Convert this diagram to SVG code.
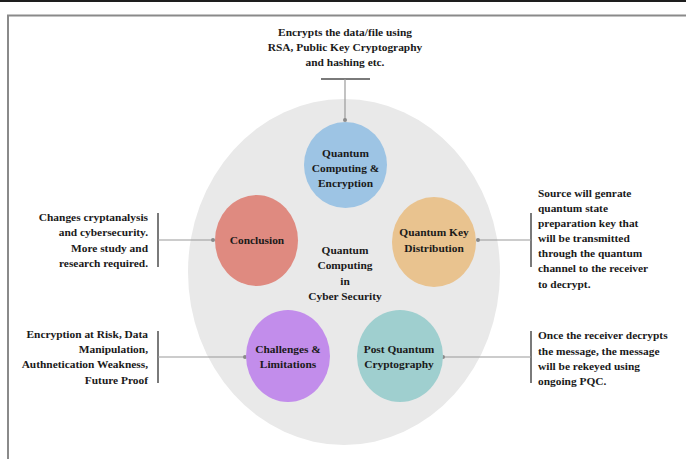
<svg xmlns="http://www.w3.org/2000/svg" width="686" height="459" viewBox="0 0 686 459">
<style>
  text { font-family: "Liberation Serif", "Times New Roman", serif; font-weight: bold; font-size: 11.4px; fill: #1a1a1a; }
  .mid { text-anchor: middle; }
  .end { text-anchor: end; }
  .conn { stroke: #9a9a9a; stroke-width: 1.2; fill: none; }
  .brk { stroke: #7a7a7a; stroke-width: 2; fill: none; }
  .dot { fill: #8a8a8a; }
</style>
<rect width="686" height="459" fill="#ffffff"/>
<rect x="0" y="0" width="686" height="2" fill="#1e1e1e"/>
<path d="M8 459 V15.5 H686" stroke="#8a8a8a" stroke-width="2" fill="none"/>

<g id="background">
  <ellipse cx="344" cy="272" rx="156" ry="173" fill="#e9e9e9"/>
  <text class="mid" x="345" y="254">Quantum</text>
  <text class="mid" x="345" y="269">Computing</text>
  <text class="mid" x="345" y="285">in</text>
  <text class="mid" x="345" y="300">Cyber Security</text>
</g>

<g id="connectors">
  <line class="brk" x1="321" y1="79" x2="370" y2="79"/>
  <line class="conn" x1="345" y1="79" x2="345" y2="120"/>
  <circle class="dot" cx="345" cy="120" r="2"/>

  <line class="brk" x1="158" y1="213" x2="158" y2="267"/>
  <line class="conn" x1="158" y1="240" x2="213" y2="240"/>
  <circle class="dot" cx="213" cy="240" r="2"/>

  <line class="brk" x1="531" y1="213" x2="531" y2="267"/>
  <line class="conn" x1="478" y1="240" x2="531" y2="240"/>
  <circle class="dot" cx="478" cy="240" r="2"/>

  <line class="brk" x1="158" y1="331" x2="158" y2="383"/>
  <line class="conn" x1="158" y1="357" x2="245" y2="357"/>
  <circle class="dot" cx="245" cy="357" r="2"/>

  <line class="brk" x1="531" y1="331" x2="531" y2="383"/>
  <line class="conn" x1="443" y1="357" x2="531" y2="357"/>
  <circle class="dot" cx="443" cy="357" r="2"/>
</g>

<g id="note-top">
  <text class="mid" x="345" y="36">Encrypts the data/file using</text>
  <text class="mid" x="345" y="51">RSA, Public Key Cryptography</text>
  <text class="mid" x="345" y="66">and hashing etc.</text>
</g>

<g id="node-encryption">
  <ellipse cx="345.5" cy="165" rx="41.5" ry="43" fill="#9dc4e4"/>
  <text class="mid" x="345.5" y="157">Quantum</text>
  <text class="mid" x="345.5" y="172">Computing &amp;</text>
  <text class="mid" x="345.5" y="187">Encryption</text>
</g>

<g id="node-conclusion">
  <ellipse cx="256.5" cy="240.5" rx="41.5" ry="45.5" fill="#df8a80"/>
  <text class="mid" x="257" y="244">Conclusion</text>
</g>
<g id="note-conclusion">
  <text class="end" x="148" y="221">Changes cryptanalysis</text>
  <text class="end" x="148" y="236">and cybersecurity.</text>
  <text class="end" x="148" y="252">More study and</text>
  <text class="end" x="148" y="267">research required.</text>
</g>

<g id="node-qkd">
  <ellipse cx="434" cy="242" rx="42" ry="45" fill="#e9c38f"/>
  <text class="mid" x="434" y="236">Quantum Key</text>
  <text class="mid" x="434" y="252">Distribution</text>
</g>
<g id="note-qkd">
  <text x="538" y="197">Source will genrate</text>
  <text x="538" y="212">quantum state</text>
  <text x="538" y="227">preparation key that</text>
  <text x="538" y="242">will be transmitted</text>
  <text x="538" y="257">through the quantum</text>
  <text x="538" y="272">channel to the receiver</text>
  <text x="538" y="288">to decrypt.</text>
</g>

<g id="node-challenges">
  <ellipse cx="288" cy="356" rx="42" ry="46" fill="#c28deb"/>
  <text class="mid" x="288" y="353">Challenges &amp;</text>
  <text class="mid" x="288" y="368">Limitations</text>
</g>
<g id="note-challenges">
  <text class="end" x="148" y="338">Encryption at Risk, Data</text>
  <text class="end" x="148" y="353">Manipulation,</text>
  <text class="end" x="148" y="368">Authnetication Weakness,</text>
  <text class="end" x="148" y="384">Future Proof</text>
</g>

<g id="node-pqc">
  <ellipse cx="400" cy="356" rx="43" ry="46" fill="#9fcfcf"/>
  <text class="mid" x="399" y="353">Post Quantum</text>
  <text class="mid" x="399" y="368">Cryptography</text>
</g>
<g id="note-pqc">
  <text x="538" y="339">Once the receiver decrypts</text>
  <text x="538" y="355">the message, the message</text>
  <text x="538" y="370">will be rekeyed using</text>
  <text x="538" y="385">ongoing PQC.</text>
</g>
</svg>
